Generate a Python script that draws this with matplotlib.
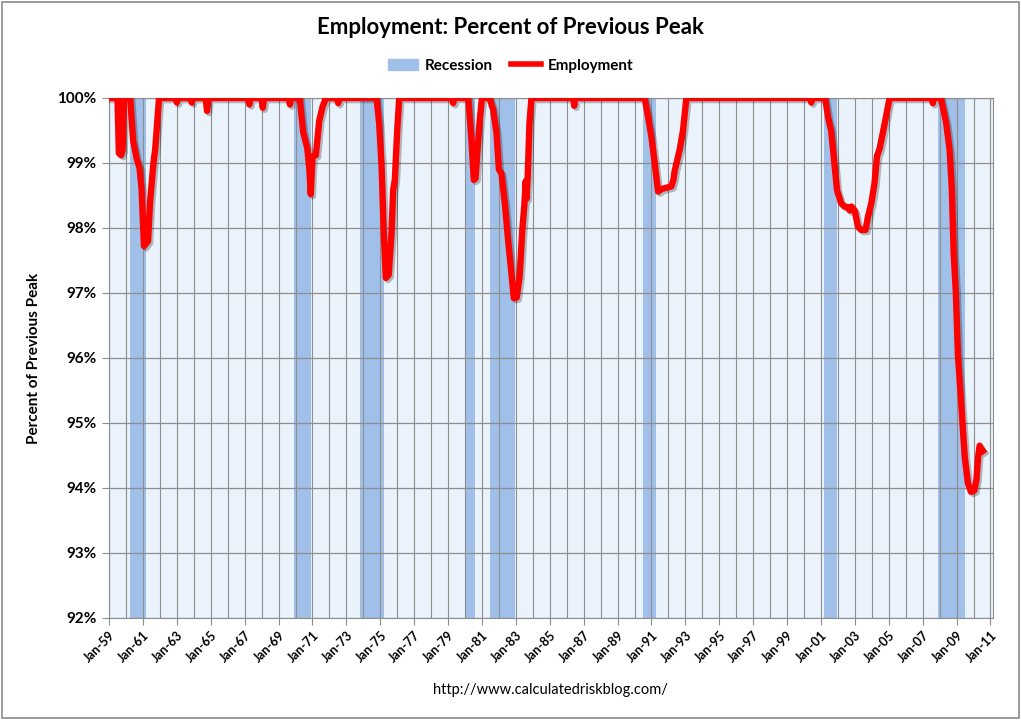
import matplotlib
matplotlib.use("Agg")
import matplotlib.pyplot as plt
import matplotlib.patheffects as pe
from matplotlib.patches import Patch, Rectangle
from matplotlib.lines import Line2D
from matplotlib.ticker import MultipleLocator, FixedLocator

plt.rcParams['font.family'] = ['Lato', 'DejaVu Sans']

# employment as percent of previous peak (decimal year, percent)
years = [
    1959.0, 1959.5, 1959.58, 1959.72, 1959.8, 1959.88, 1960.25, 1960.42, 1960.62,
    1960.8, 1960.92, 1961.06, 1961.3, 1961.42, 1961.62, 1961.72, 1961.95,
    1962.9, 1963.0, 1963.1, 1963.8, 1963.88, 1963.96, 1964.7, 1964.78, 1964.88,
    1967.2, 1967.28, 1967.36, 1968.0, 1968.07, 1968.15, 1969.6, 1969.67, 1969.75,
    1970.25, 1970.45, 1970.7, 1970.82, 1970.9, 1971.0, 1971.2, 1971.4, 1971.6, 1971.8,
    1972.45, 1972.52, 1972.6,
    1974.78, 1974.94, 1975.08, 1975.2, 1975.33, 1975.5, 1975.67, 1975.76, 1975.86,
    1976.0, 1976.12,
    1979.22, 1979.3, 1979.38,
    1980.2, 1980.38, 1980.52, 1980.62, 1980.71, 1980.87, 1981.0,
    1981.45, 1981.66, 1981.86, 1982.0, 1982.15, 1982.35, 1982.54, 1982.68, 1982.88,
    1983.05, 1983.22, 1983.38, 1983.5, 1983.58, 1983.63, 1983.7, 1983.8, 1983.92,
    1986.38, 1986.44, 1986.5,
    1990.6, 1990.8, 1991.0, 1991.19, 1991.39, 1991.6, 1991.88, 1992.18, 1992.3,
    1992.37, 1992.66, 1992.86, 1993.06,
    2000.36, 2000.43, 2000.5,
    2001.25, 2001.42, 2001.6, 2001.8, 2001.95, 2002.19, 2002.39, 2002.59, 2002.7,
    2002.8, 2003.0, 2003.18, 2003.38, 2003.63, 2003.77, 2003.97, 2004.16, 2004.3,
    2004.46, 2004.76, 2004.95, 2005.05,
    2007.55, 2007.6, 2007.66,
    2008.08, 2008.39, 2008.59, 2008.72, 2008.83, 2008.95, 2009.08, 2009.28, 2009.48,
    2009.67, 2009.85, 2010.05, 2010.17, 2010.27, 2010.36, 2010.46, 2010.55,
]
employment = [
    100, 100, 99.15, 99.12, 99.2, 100, 100, 99.35, 99.08,
    98.92, 98.6, 97.72, 97.8, 98.4, 99.0, 99.2, 100,
    100, 99.93, 100, 100, 99.93, 100, 100, 99.8, 100,
    100, 99.9, 100, 100, 99.85, 100, 100, 99.9, 100,
    100, 99.48, 99.22, 98.9, 98.52, 99.1, 99.12, 99.65, 99.87, 100,
    100, 99.92, 100,
    100, 99.6, 98.95, 97.97, 97.23, 97.28, 97.95, 98.58, 98.74,
    99.5, 100,
    100, 99.92, 100,
    100, 99.35, 98.74, 98.76, 99.1, 99.66, 100,
    100, 99.82, 99.46, 98.9, 98.84, 98.38, 97.82, 97.46, 96.92,
    96.93, 97.25, 97.97, 98.35, 98.72, 98.45, 98.8, 99.6, 100,
    100, 99.88, 100,
    100, 99.71, 99.4, 99.0, 98.56, 98.6, 98.62, 98.64, 98.75,
    98.88, 99.2, 99.5, 100,
    100, 99.93, 100,
    100, 99.7, 99.5, 98.98, 98.58, 98.38, 98.33, 98.32, 98.27,
    98.33, 98.26, 98.02, 97.97, 97.97, 98.17, 98.38, 98.69, 99.1,
    99.22, 99.61, 99.87, 100,
    100, 99.92, 100,
    100, 99.61, 99.2, 98.6, 97.6, 97.05, 96.05, 95.28, 94.48,
    94.07, 93.94, 93.96, 94.12, 94.48, 94.65, 94.6, 94.57,
]

# NBER recessions (start, end) in decimal years
rec_start = [1960.25, 1969.92, 1973.83, 1980.0, 1981.5, 1990.5, 2001.17, 2007.92]
rec_end = [1961.17, 1970.92, 1975.25, 1980.58, 1982.92, 1991.25, 2001.92, 2009.5]

tick_years = list(range(1959, 2012, 2))
tick_labels = ["Jan-%02d" % (y % 100) for y in tick_years]
y_ticks = list(range(92, 101))
y_labels = ["%d%%" % v for v in y_ticks]

rec_color = "#a0c0ea"
grid_color = "#8e8e8e"

fig = plt.figure(figsize=(10.21, 7.2), dpi=100)
fig.patches.append(Rectangle((0.002, 0.003), 0.996, 0.994, transform=fig.transFigure,
                             fill=False, edgecolor="#8a8a8a", lw=1.2))
ax = fig.add_axes([0.1068, 0.1417, 0.8658, 0.7222])
ax.set_facecolor("#eaf2fb")

for s, e in zip(rec_start, rec_end):
    ax.axvspan(s, e, color=rec_color, lw=0, zorder=1)

ax.plot(years, employment, color="red", lw=4.6, solid_joinstyle="round", zorder=3,
        path_effects=[pe.SimpleLineShadow(offset=(1.5, -1.5), shadow_color="black", alpha=0.25),
                      pe.Normal()])

ax.set_xlim(1959, 2011.15)
ax.set_ylim(92, 100)
ax.xaxis.set_major_locator(FixedLocator(tick_years))
ax.xaxis.set_minor_locator(MultipleLocator(1))
ax.set_xticklabels(tick_labels, rotation=45, ha="right", rotation_mode="anchor",
                   fontsize=9, fontweight="bold")
ax.yaxis.set_major_locator(FixedLocator(y_ticks))
ax.set_yticklabels(y_labels, fontsize=11, fontweight="bold")
ax.tick_params(axis="x", which="major", length=5, color=grid_color, pad=3)
ax.tick_params(axis="x", which="minor", length=0)
ax.tick_params(axis="y", length=5, color=grid_color, pad=4)

ax.set_axisbelow("line")
ax.grid(True, which="both", axis="x", color=grid_color, lw=0.8)
ax.grid(True, which="major", axis="y", color=grid_color, lw=0.9)
for sp in ax.spines.values():
    sp.set_color(grid_color)

ax.set_ylabel("Percent of Previous Peak", fontsize=11, fontweight="bold", labelpad=12)

fig.text(0.5, 0.962, "Employment: Percent of Previous Peak", ha="center", va="center",
         fontsize=16, fontweight="bold")

handles = [Patch(color=rec_color, label="Recession"),
           Line2D([0], [0], color="red", lw=4, label="Employment")]
fig.legend(handles=handles, loc="center", bbox_to_anchor=(0.5, 0.909), ncol=2,
           frameon=False, prop={"weight": "bold", "size": 11},
           handlelength=2.0, handletextpad=0.4, columnspacing=1.2)

fig.text(0.539, 0.041, "http://www.calculatedriskblog.com/", ha="center", va="center",
         fontsize=10.5)

fig.savefig("out.png", dpi=100)
